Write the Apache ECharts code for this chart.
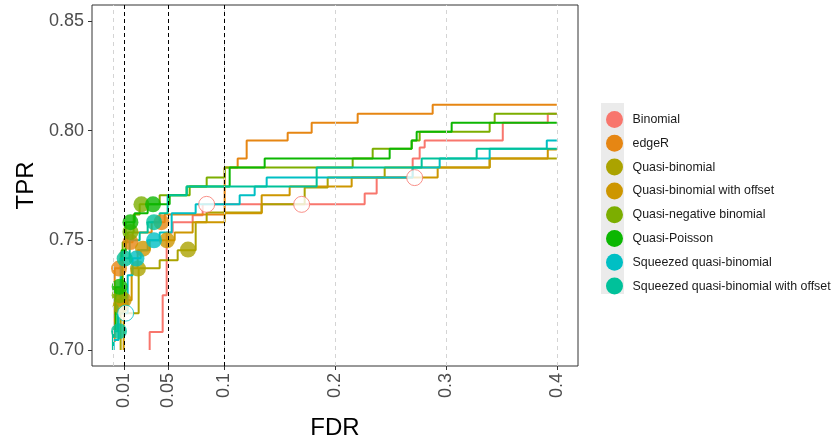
<!DOCTYPE html>
<html>
<head>
<meta charset="utf-8">
<script src="https://cdn.jsdelivr.net/npm/echarts@6/dist/echarts.min.js"></script>
<style>
html,body{margin:0;padding:0;background:#fff;}
#c{width:838px;height:448px;}
</style>
</head>
<body>
<div id="c"></div>
<script>
// ---------------- DATA ----------------
const methods = ['Binomial','edgeR','Quasi-binomial','Quasi-binomial with offset','Quasi-negative binomial','Quasi-Poisson','Squeezed quasi-binomial','Squeezed quasi-binomial with offset'];
const fdrThresholds = [0.01, 0.05, 0.1];
const xTickValues = [0.01, 0.05, 0.1, 0.2, 0.3, 0.4];
const yTickValues = [0.70, 0.75, 0.80, 0.85];
const xGridValues = [0, 0.1, 0.2, 0.3, 0.4];

// FDR / TPR curves: [FDR, TPR]
const binomialCurve = [[0.0331,0.7000],[0.0331,0.7082],[0.0448,0.7082],[0.0448,0.7250],[0.0484,0.7250],[0.0484,0.7536],[0.0538,0.7536],[0.0538,0.7582],[0.0718,0.7582],[0.0718,0.7614],[0.0808,0.7614],[0.0808,0.7664],[0.2266,0.7664],[0.2266,0.7714],[0.2374,0.7714],[0.2374,0.7786],[0.2698,0.7786],[0.2698,0.7873],[0.2761,0.7873],[0.2761,0.7923],[0.2806,0.7923],[0.2806,0.7955],[0.3509,0.7955],[0.3509,0.8036],[0.3914,0.8036],[0.3914,0.8077],[0.3995,0.8077]];
const edgeRCurve = [[0.0016,0.7036],[0.0016,0.7373],[0.0070,0.7373],[0.0070,0.7445],[0.0115,0.7445],[0.0115,0.7491],[0.0178,0.7491],[0.0178,0.7536],[0.0349,0.7536],[0.0349,0.7582],[0.0466,0.7582],[0.0466,0.7618],[0.1006,0.7618],[0.1006,0.7832],[0.1123,0.7832],[0.1123,0.7873],[0.1204,0.7873],[0.1204,0.7955],[0.1573,0.7955],[0.1573,0.7991],[0.1789,0.7991],[0.1789,0.8036],[0.2203,0.8036],[0.2203,0.8077],[0.2878,0.8077],[0.2878,0.8118],[0.3995,0.8118]];
const quasiBinomialCurve = [[0.0070,0.7000],[0.0070,0.7168],[0.0232,0.7168],[0.0232,0.7373],[0.0421,0.7373],[0.0421,0.7409],[0.0583,0.7409],[0.0583,0.7455],[0.0745,0.7455],[0.0745,0.7582],[0.0844,0.7582],[0.0844,0.7627],[0.1339,0.7627],[0.1339,0.7664],[0.1726,0.7664],[0.1726,0.7741],[0.1933,0.7741],[0.1933,0.7786],[0.2446,0.7786],[0.2446,0.7832],[0.3391,0.7832],[0.3391,0.7873],[0.3995,0.7873]];
const quasiBinomialOffsetCurve = [[0.0097,0.7000],[0.0097,0.7227],[0.0169,0.7227],[0.0169,0.7373],[0.0223,0.7373],[0.0223,0.7455],[0.0331,0.7455],[0.0331,0.7500],[0.0556,0.7500],[0.0556,0.7536],[0.0718,0.7536],[0.0718,0.7582],[0.1006,0.7582],[0.1006,0.7623],[0.1339,0.7623],[0.1339,0.7705],[0.1591,0.7705],[0.1591,0.7745],[0.2149,0.7745],[0.2149,0.7786],[0.2923,0.7786],[0.2923,0.7832],[0.3391,0.7832],[0.3391,0.7873],[0.3914,0.7873],[0.3914,0.7914],[0.3995,0.7914]];
const quasiNegBinomialCurve = [[0.0025,0.7159],[0.0025,0.7250],[0.0088,0.7250],[0.0088,0.7491],[0.0133,0.7491],[0.0133,0.7536],[0.0187,0.7536],[0.0187,0.7618],[0.0241,0.7618],[0.0241,0.7664],[0.0421,0.7664],[0.0421,0.7705],[0.0691,0.7705],[0.0691,0.7745],[0.0844,0.7745],[0.0844,0.7786],[0.1006,0.7786],[0.1006,0.7832],[0.2158,0.7832],[0.2158,0.7873],[0.2338,0.7873],[0.2338,0.7918],[0.2689,0.7918],[0.2689,0.7955],[0.2761,0.7955],[0.2761,0.7995],[0.3391,0.7995],[0.3391,0.8036],[0.3436,0.8036],[0.3436,0.8077],[0.3995,0.8077]];
const quasiPoissonCurve = [[0.0025,0.7091],[0.0025,0.7286],[0.0079,0.7286],[0.0079,0.7455],[0.0115,0.7455],[0.0115,0.7582],[0.0196,0.7582],[0.0196,0.7623],[0.0313,0.7623],[0.0313,0.7664],[0.0511,0.7664],[0.0511,0.7705],[0.0664,0.7705],[0.0664,0.7745],[0.1051,0.7745],[0.1051,0.7832],[0.1366,0.7832],[0.1366,0.7873],[0.2491,0.7873],[0.2491,0.7918],[0.2689,0.7918],[0.2689,0.7955],[0.2734,0.7955],[0.2734,0.7995],[0.3049,0.7995],[0.3049,0.8036],[0.3995,0.8036]];
const squeezedCurve = [[0.0007,0.7000],[0.0007,0.7045],[0.0052,0.7045],[0.0052,0.7168],[0.0133,0.7168],[0.0133,0.7341],[0.0178,0.7341],[0.0178,0.7418],[0.0250,0.7418],[0.0250,0.7455],[0.0313,0.7455],[0.0313,0.7500],[0.0421,0.7500],[0.0421,0.7536],[0.0529,0.7536],[0.0529,0.7623],[0.0745,0.7623],[0.0745,0.7664],[0.1141,0.7664],[0.1141,0.7705],[0.1276,0.7705],[0.1276,0.7745],[0.1384,0.7745],[0.1384,0.7786],[0.2698,0.7786],[0.2698,0.7832],[0.2941,0.7832],[0.2941,0.7873],[0.3391,0.7873],[0.3391,0.7918],[0.3905,0.7918],[0.3905,0.7955],[0.3995,0.7955]];
const squeezedOffsetCurve = [[0.0000,0.7000],[0.0000,0.7086],[0.0043,0.7086],[0.0043,0.7227],[0.0070,0.7227],[0.0070,0.7418],[0.0151,0.7418],[0.0151,0.7500],[0.0241,0.7500],[0.0241,0.7536],[0.0313,0.7536],[0.0313,0.7582],[0.0421,0.7582],[0.0421,0.7623],[0.0493,0.7623],[0.0493,0.7705],[0.0664,0.7705],[0.0664,0.7745],[0.1834,0.7745],[0.1834,0.7832],[0.2779,0.7832],[0.2779,0.7873],[0.3274,0.7873],[0.3274,0.7918],[0.3995,0.7918]];

// Points at FDR thresholds 0.01, 0.05, 0.1: [observed FDR, TPR]
const binomialPoints = [[0.0844,0.7664],[0.1699,0.7664],[0.2716,0.7786]];
const edgeRPoints = [[0.0055,0.7371],[0.0158,0.7492],[0.0437,0.7583]];
const quasiBinomialPoints = [[0.0070,0.7200],[0.0226,0.7371],[0.0676,0.7458]];
const quasiBinomialOffsetPoints = [[0.0097,0.7227],[0.0271,0.7462],[0.0487,0.7500]];
const quasiNegBinomialPoints = [[0.0061,0.7250],[0.0158,0.7538],[0.0257,0.7664]];
const quasiPoissonPoints = [[0.0061,0.7288],[0.0158,0.7583],[0.0361,0.7664]];
const squeezedPoints = [[0.0115,0.7168],[0.0212,0.7417],[0.0370,0.7500]];
const squeezedOffsetPoints = [[0.0055,0.7086],[0.0106,0.7417],[0.0370,0.7583]];

// ---------------- STYLE ----------------
const colors = ['#F8766D','#E68613','#ABA300','#CD9600','#7CAE00','#0CB702','#00BFC4','#00C19A'];
const curves = [binomialCurve, edgeRCurve, quasiBinomialCurve, quasiBinomialOffsetCurve, quasiNegBinomialCurve, quasiPoissonCurve, squeezedCurve, squeezedOffsetCurve];
const points = [binomialPoints, edgeRPoints, quasiBinomialPoints, quasiBinomialOffsetPoints, quasiNegBinomialPoints, quasiPoissonPoints, squeezedPoints, squeezedOffsetPoints];
const FONT = '"Liberation Sans", Arial, sans-serif';

const chart = echarts.init(document.getElementById('c'), null, {renderer: 'canvas'});

const series = [];
series.push({
  type: 'line', name: '_ref', data: [], z: 1, silent: true,
  markLine: {
    silent: true, symbol: 'none', label: {show: false}, animation: false,
    data: xGridValues.map(v => ({xAxis: v, lineStyle: {color: '#d4d4d4', width: 1, type: [4, 4]}}))
      .concat(fdrThresholds.map(v => ({xAxis: v, lineStyle: {color: '#000', width: 1, type: [4, 3]}})))
  }
});
methods.forEach((m, i) => {
  series.push({
    type: 'line', name: m, data: curves[i], showSymbol: false, symbol: 'none', z: 2,
    lineStyle: {color: colors[i], width: 2}, itemStyle: {color: colors[i]}, animation: false
  });
});
methods.forEach((m, i) => {
  series.push({
    type: 'scatter', name: m, z: 3, symbol: 'circle', symbolSize: 16, animation: false,
    data: points[i].map((p, k) => {
      const open = p[0] > fdrThresholds[k];
      return {value: p, itemStyle: open ? {color: '#fff', borderColor: colors[i], borderWidth: 1} : {color: colors[i], borderWidth: 0}};
    }),
    itemStyle: {color: colors[i]}
  });
});

chart.setOption({
  animation: false,
  backgroundColor: '#fff',
  grid: {left: 92, top: 5, width: 486, height: 361, show: true, borderColor: '#333', borderWidth: 1, backgroundColor: 'transparent'},
  xAxis: {
    type: 'value', min: -0.0188, max: 0.4186,
    name: 'FDR', nameLocation: 'middle', nameGap: 50,
    nameTextStyle: {fontSize: 24, color: '#000', fontFamily: FONT},
    axisLine: {show: false, onZero: false},
    splitLine: {show: false},
    axisTick: {show: true, length: 4, lineStyle: {color: '#333'}, customValues: xTickValues},
    axisLabel: {rotate: 90, fontSize: 18, color: '#4d4d4d', fontFamily: FONT, margin: 7, customValues: xTickValues, formatter: v => String(v)}
  },
  yAxis: {
    type: 'value', min: 0.6927, max: 0.8573,
    name: 'TPR', nameLocation: 'middle', nameGap: 52,
    nameTextStyle: {fontSize: 24, color: '#000', fontFamily: FONT},
    axisLine: {show: false, onZero: false},
    splitLine: {show: false},
    axisTick: {show: true, length: 4, lineStyle: {color: '#333'}, customValues: yTickValues},
    axisLabel: {fontSize: 18, color: '#4d4d4d', fontFamily: FONT, margin: 8, customValues: yTickValues, formatter: v => v.toFixed(2)}
  },
  legend: {
    orient: 'vertical', left: 601, top: 106,
    itemWidth: 22, itemHeight: 17, itemGap: 6.8,
    data: methods.map(m => ({name: m, icon: 'circle'})),
    textStyle: {fontSize: 12.4, color: '#1a1a1a', fontFamily: FONT, padding: [0, 0, 0, 2]},
    selectedMode: false
  },
  graphic: [{
    type: 'rect', left: 601, top: 103, z: -1,
    shape: {width: 23, height: 191},
    style: {fill: '#ebebeb'}
  }],
  series: series
});
</script>
</body>
</html>
